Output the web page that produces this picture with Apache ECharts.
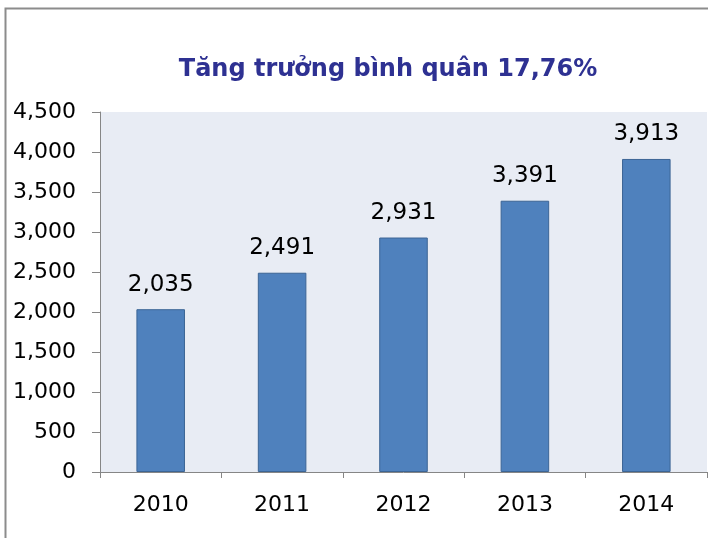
<!DOCTYPE html>
<html>
<head>
<meta charset="utf-8">
<script src="https://cdn.jsdelivr.net/npm/echarts@6/dist/echarts.min.js"></script>
<style>
  html, body { margin: 0; padding: 0; background: #fff; }
  #chart { width: 708px; height: 538px; }
</style>
</head>
<body>
<div id="chart"></div>
<script>
// dữ liệu
const years = ['2010', '2011', '2012', '2013', '2014']
const values = [2035, 2491, 2931, 3391, 3913]
const titleText = 'Tăng trưởng bình quân 17,76%'

const myChart = echarts.init(document.getElementById('chart'))

const fmt = v => v.toLocaleString('en-US')
const font = 'DejaVu Sans'

const option = {
  backgroundColor: '#fff',
  animation: false,
  title: {
    text: titleText,
    left: 383,
    textAlign: 'center',
    top: 53,
    textStyle: {
      color: '#2E3192',
      fontFamily: font,
      fontWeight: 'bold',
      fontSize: 24,
    },
  },
  // khung viền ngoài
  graphic: [
    {
      type: 'polyline',
      shape: { points: [[5.5, 545], [5.5, 8.5], [720, 8.5]] },
      style: { stroke: '#8c8c8c', lineWidth: 2, fill: null },
      silent: true,
    },
  ],
  grid: {
    left: 100,
    right: 1,
    top: 112,
    bottom: 66,
    show: true,
    backgroundColor: '#E8ECF4',
    borderWidth: 0,
  },
  xAxis: {
    type: 'category',
    data: years,
    axisLine: { lineStyle: { color: '#868686', width: 1 } },
    axisTick: { show: true, length: 6, lineStyle: { color: '#868686' } },
    axisLabel: {
      color: '#000',
      fontFamily: font,
      fontSize: 22,
      margin: 22,
    },
  },
  yAxis: {
    type: 'value',
    min: 0,
    max: 4500,
    interval: 500,
    axisLine: { show: true, lineStyle: { color: '#868686', width: 1 } },
    axisTick: { show: true, length: 8, lineStyle: { color: '#868686' } },
    splitLine: { show: false },
    axisLabel: {
      color: '#000',
      fontFamily: font,
      fontSize: 22,
      margin: 24,
      formatter: v => fmt(v),
    },
  },
  series: [
    {
      type: 'bar',
      data: values,
      barWidth: '40%',
      itemStyle: {
        color: '#4F81BD',
        borderColor: '#3C6595',
        borderWidth: 1,
      },
      label: {
        show: true,
        position: 'top',
        distance: 13,
        color: '#000',
        fontFamily: font,
        fontSize: 23,
        formatter: p => fmt(p.value),
      },
    },
  ],
}

option && myChart.setOption(option)
</script>
</body>
</html>
